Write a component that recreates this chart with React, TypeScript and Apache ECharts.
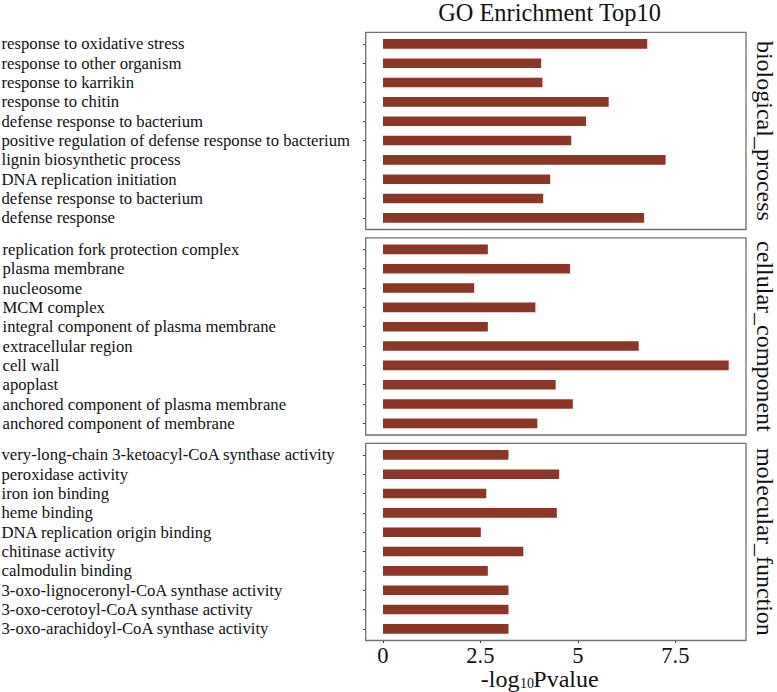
import React, { useEffect, useRef } from "react";
import * as echarts from "echarts";

const bpTerms = [
  "response to oxidative stress",
  "response to other organism",
  "response to karrikin",
  "response to chitin",
  "defense response to bacterium",
  "positive regulation of defense response to bacterium",
  "lignin biosynthetic process",
  "DNA replication initiation",
  "defense response to bacterium ",
  "defense response",
];
const bpValues = [6.78, 4.06, 4.09, 5.79, 5.21, 4.83, 7.25, 4.29, 4.11, 6.7];

const ccTerms = [
  "replication fork protection complex",
  "plasma membrane",
  "nucleosome",
  "MCM complex",
  "integral component of plasma membrane",
  "extracellular region",
  "cell wall",
  "apoplast",
  "anchored component of plasma membrane",
  "anchored component of membrane",
];
const ccValues = [2.69, 4.8, 2.34, 3.91, 2.69, 6.56, 8.87, 4.43, 4.87, 3.96];

const mfTerms = [
  "very-long-chain 3-ketoacyl-CoA synthase activity",
  "peroxidase activity",
  "iron ion binding",
  "heme binding",
  "DNA replication origin binding",
  "chitinase activity",
  "calmodulin binding",
  "3-oxo-lignoceronyl-CoA synthase activity",
  "3-oxo-cerotoyl-CoA synthase activity",
  "3-oxo-arachidoyl-CoA synthase activity",
];
const mfValues = [3.22, 4.52, 2.65, 4.46, 2.51, 3.6, 2.69, 3.22, 3.22, 3.22];

const facetNames = ["biological_process", "cellular_component", "molecular_function"];
const xTicks = [0, 2.5, 5, 7.5];
const titleText = "GO Enrichment Top10";

const FONT = '"Liberation Serif", "Times New Roman", serif';
const BAR = "#8B3626";

export default function App() {
  const ref = useRef<HTMLDivElement>(null);
  useEffect(() => {
    if (!ref.current) return;
    const chart = echarts.init(ref.current, null, { renderer: "svg" });

    const panelLeft = 365.7;
    const panelWidth = 380.3;
    const panelH = 197.2;
    const tops = [32.3, 237.8, 443.3];
    const band = panelH / 10.2;
    const inset = band * 0.1;
    const labelStart = [1.5, 2.5, 1.5];

    const allVals = [...bpValues, ...ccValues, ...mfValues];
    const dmax = Math.max(...allVals);
    const xmin = -dmax * 0.05;
    const xmax = dmax * 1.05;

    const termsList = [bpTerms, ccTerms, mfTerms];
    const valsList = [bpValues, ccValues, mfValues];

    const grids = tops.map((t) => ({
      left: panelLeft,
      top: t + inset,
      width: panelWidth,
      height: band * 10,
      outerBoundsMode: "none",
      containLabel: false,
    }));

    const xAxes = tops.map((_, i) => {
      const last = i === 2;
      return {
        type: "value",
        gridIndex: i,
        min: xmin,
        max: xmax,
        offset: last ? inset : 0,
        axisLine: { show: false, onZero: false },
        splitLine: { show: false },
        axisTick: {
          show: last,
          length: 2.5,
          customValues: xTicks,
          lineStyle: { color: "#333", width: 1 },
        },
        axisLabel: {
          show: last,
          customValues: xTicks,
          margin: 14.5,
          verticalAlign: "middle",
          lineHeight: 18,
          fontFamily: FONT,
          fontSize: 22.5,
          color: "#111",
          formatter: (v: number) => String(v),
        },
      };
    });

    const yAxes = tops.map((_, i) => ({
      type: "category",
      gridIndex: i,
      inverse: true,
      data: termsList[i],
      position: "left",
      axisLine: { show: false, onZero: false },
      splitLine: { show: false },
      axisTick: {
        show: true,
        alignWithLabel: true,
        length: 2.5,
        lineStyle: { color: "#333", width: 1 },
      },
      axisLabel: {
        interval: 0,
        align: "left",
        margin: panelLeft - labelStart[i],
        fontFamily: FONT,
        fontSize: 16.7,
        color: "#111",
      },
    }));

    const series = tops.map((_, i) => ({
      type: "bar",
      xAxisIndex: i,
      yAxisIndex: i,
      data: valsList[i],
      barWidth: 9.6,
      itemStyle: { color: BAR },
      silent: true,
    }));

    const graphic: any[] = [];
    tops.forEach((t, i) => {
      graphic.push({
        type: "rect",
        shape: { x: panelLeft, y: t, width: panelWidth, height: panelH },
        style: { fill: "none", stroke: "#707070", lineWidth: 1.3 },
        z: 10,
      });
      graphic.push({
        type: "text",
        x: 765,
        y: t + panelH / 2,
        rotation: -Math.PI / 2,
        style: {
          text: facetNames[i],
          fontFamily: FONT,
          fontSize: 24,
          lineHeight: 22,
          fill: "#111",
          align: "center",
          verticalAlign: "middle",
        },
      });
    });
    graphic.push({
      type: "text",
      x: 549.5,
      y: 12,
      style: {
        text: titleText,
        fontFamily: FONT,
        fontSize: 24.4,
        lineHeight: 19,
        fill: "#111",
        align: "center",
        verticalAlign: "middle",
      },
    });
    graphic.push({
      type: "text",
      x: 519.5,
      y: 678.5,
      style: { text: "-log", fontFamily: FONT, fontSize: 24, lineHeight: 20, fill: "#111", align: "right", verticalAlign: "middle" },
    });
    graphic.push({
      type: "text",
      x: 520,
      y: 683.5,
      style: { text: "10", fontFamily: FONT, fontSize: 14, lineHeight: 14, fill: "#111", align: "left", verticalAlign: "middle" },
    });
    graphic.push({
      type: "text",
      x: 533.3,
      y: 678.5,
      style: { text: "Pvalue", fontFamily: FONT, fontSize: 24, lineHeight: 20, fill: "#111", align: "left", verticalAlign: "middle" },
    });

    chart.setOption({
      animation: false,
      backgroundColor: "#fff",
      grid: grids,
      xAxis: xAxes,
      yAxis: yAxes,
      series,
      graphic,
    } as any);

    return () => chart.dispose();
  }, []);

  return (
    <div
      ref={ref}
      style={{ position: "absolute", left: 0, top: 0, width: 777, height: 692 }}
    />
  );
}
